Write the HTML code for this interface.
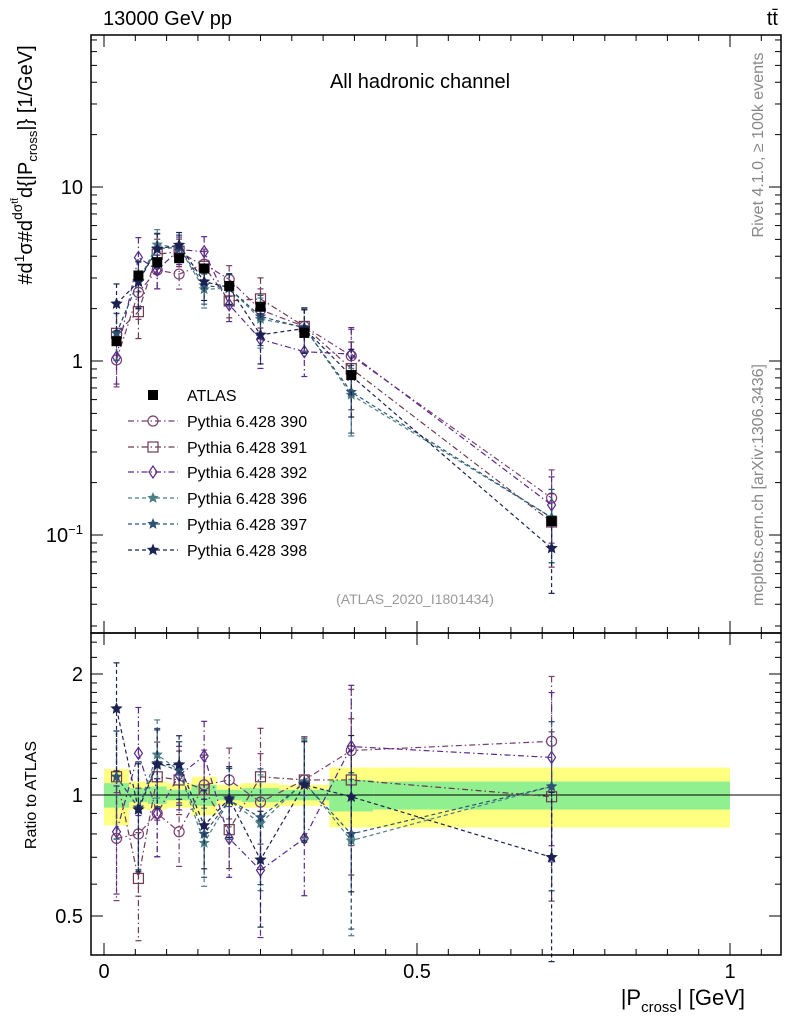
<!DOCTYPE html>
<html><head><meta charset="utf-8"><style>
body{margin:0;background:#fff;}
svg{display:block;font-family:"Liberation Sans",sans-serif;}
</style></head><body>
<svg id="c" width="786" height="1024" viewBox="0 0 786 1024"></svg>
<script>
const binEdges=[0,0.04,0.07,0.1,0.14,0.18,0.22,0.28,0.36,0.43,1.0];
const binCenters=[0.02,0.055,0.085,0.12,0.16,0.2,0.25,0.32,0.395,0.715];
const atlasValues=[1.30,3.1,3.7,3.9,3.4,2.7,2.05,1.45,0.83,0.12];
const bandTotal=[0.16,0.08,0.08,0.07,0.11,0.06,0.07,0.06,0.17,0.17];
const bandStat=[0.07,0.04,0.05,0.03,0.06,0.03,0.04,0.03,0.09,0.08];
const mcErr=[0.3,0.3,0.22,0.18,0.22,0.2,0.32,0.28,0.42,0.45];
const seriesNames=["Pythia 6.428 390","Pythia 6.428 391","Pythia 6.428 392","Pythia 6.428 396","Pythia 6.428 397","Pythia 6.428 398"];
const ratio390=[0.78,0.80,0.90,0.81,1.06,1.09,0.96,1.09,1.29,1.36];
const ratio391=[1.11,0.62,1.11,1.09,1.03,0.82,1.11,1.09,1.09,0.99];
const ratio392=[0.81,1.27,0.90,1.12,1.25,0.78,0.65,0.78,1.32,1.24];
const ratio396=[1.11,0.93,1.26,1.15,0.76,0.97,0.85,1.08,0.77,1.05];
const ratio397=[1.11,0.93,1.20,1.15,0.80,0.97,0.88,1.07,0.80,1.05];
const ratio398=[1.64,0.92,1.19,1.19,0.84,0.98,0.69,1.06,0.99,0.70];
const xTicks=[0,0.5,1];
const xTickLabels=["0","0.5","1"];

const S=document.getElementById('c');const NS="http://www.w3.org/2000/svg";
function el(t,a,p){const e=document.createElementNS(NS,t);for(const k in a)e.setAttribute(k,a[k]);(p||S).appendChild(e);return e;}
const L=91,R=781,T=35,MB=633,B=955;
const X=v=>104+v*626;
const Ym=v=>361-174*Math.log10(v);
const Yr=v=>795-121*Math.log2(v);
const cols=["#7a3f72","#6e3a50","#5a2a8c","#4a7f85","#2f5374","#1b2150"];
const dashes=["6,3,1.5,3","6,3,1.5,3","6,3,1.5,3","4,3","4,3","4,3"];
const markers=["circle","square","diamond","star","star","tri"];
const ratios=[ratio390,ratio391,ratio392,ratio396,ratio397,ratio398];

for(let i=0;i<binCenters.length;i++){
  let x0=X(binEdges[i]),x1=X(binEdges[i+1]);
  let r=el('rect',{x:x0,y:Yr(1+bandTotal[i]),width:x1-x0,height:Yr(1-bandTotal[i])-Yr(1+bandTotal[i]),fill:"#ffff80"});
  
  
  let g=el('rect',{x:x0,y:Yr(1+bandStat[i]),width:x1-x0,height:Yr(1-bandStat[i])-Yr(1+bandStat[i]),fill:"#90f090"});
  
  
}
el('line',{x1:L,x2:R,y1:Yr(1),y2:Yr(1),stroke:"#000","stroke-width":1});

function marker(type,x,y,c,parent,s){
  s=s||5;let m;
  if(type=="circle")m=el('circle',{cx:x,cy:y,r:s,fill:"none",stroke:c,"stroke-width":1.2},parent);
  else if(type=="square")m=el('rect',{x:x-s,y:y-s,width:2*s,height:2*s,fill:"none",stroke:c,"stroke-width":1.2},parent);
  else if(type=="diamond")m=el('polygon',{points:`${x},${y-s-1} ${x+s-1},${y} ${x},${y+s+1} ${x-s+1},${y}`,fill:"none",stroke:c,"stroke-width":1.2},parent);
  else if(type=="tri")m=el('polygon',{points:starPts(x,y,s+1.5),fill:c},parent);
  else if(type=="fsq")m=el('rect',{x:x-s,y:y-s,width:2*s,height:2*s,fill:c},parent);
  else m=el('polygon',{points:starPts(x,y,s+1),fill:c},parent);
  return m;
}
function starPts(x,y,r){let p=[];for(let k=0;k<10;k++){let a=-Math.PI/2+k*Math.PI/5,rr=k%2?r*0.45:r;p.push((x+rr*Math.cos(a)).toFixed(1)+","+(y+rr*Math.sin(a)).toFixed(1));}return p.join(" ");}

ratios.forEach((rs,si)=>{
  const c=cols[si];
  const mainPts=rs.map((r,i)=>[X(binCenters[i]),Ym(r*atlasValues[i])]);
  const ratPts=rs.map((r,i)=>[X(binCenters[i]),Yr(r)]);
  let pl=el('polyline',{points:mainPts.map(p=>p.join(",")).join(" "),fill:"none",stroke:c,"stroke-width":1.2,"stroke-dasharray":dashes[si]});
  
  
  let pr=el('polyline',{points:ratPts.map(p=>p.join(",")).join(" "),fill:"none",stroke:c,"stroke-width":1.2,"stroke-dasharray":dashes[si]});
  
  
  rs.forEach((r,i)=>{
    const v=r*atlasValues[i],e=mcErr[i];
    const x=X(binCenters[i]);
    [[Ym(v*(1+e)),Ym(v*(1-e))],[Yr(r*(1+e)),Yr(r*(1-e))]].forEach(([a,b])=>{
      el('line',{x1:x,x2:x,y1:a,y2:b,stroke:c,"stroke-width":1.2,"stroke-dasharray":dashes[si]});
      el('line',{x1:x-3,x2:x+3,y1:a,y2:a,stroke:c,"stroke-width":1.2});
      el('line',{x1:x-3,x2:x+3,y1:b,y2:b,stroke:c,"stroke-width":1.2});
    });
    let m1=marker(markers[si],x,Ym(v),c);
    
    
    let m2=marker(markers[si],x,Yr(r),c);
    
    
  });
});
atlasValues.forEach((v,i)=>{
  const x=X(binCenters[i]);
  let m=marker("fsq",x,Ym(v),"#000",null,5);
  
  
});

el('rect',{x:L,y:T,width:R-L,height:MB-T,fill:"none",stroke:"#000","stroke-width":1.5});
el('rect',{x:L,y:MB,width:R-L,height:B-MB,fill:"none",stroke:"#000","stroke-width":1.5});
for(let d=-2;d<=1;d++){for(let k=1;k<10;k++){const v=k*Math.pow(10,d);const y=Ym(v);if(y<T||y>MB)continue;const len=k==1?12:6;
 el('line',{x1:L,x2:L+len,y1:y,y2:y,stroke:"#000"});el('line',{x1:R-len,x2:R,y1:y,y2:y,stroke:"#000"});}}
[[10,"10"],[1,"1"]].forEach(([v,t])=>{let tx=el('text',{x:L-8,y:Ym(v)+7,"text-anchor":"end","font-size":20});tx.textContent=t;});
let t01=el('text',{x:L-8,y:Ym(0.1)+7,"text-anchor":"end","font-size":20});t01.innerHTML='10<tspan dy="-8" font-size="13">−1</tspan>';
[0.5,0.6,0.7,0.8,0.9,1,1.1,1.2,1.3,1.4,1.5,1.6,1.7,1.8,1.9,2,2.2,2.4].forEach(v=>{const y=Yr(v);const len=(v==0.5||v==1||v==2)?12:6;
 el('line',{x1:L,x2:L+len,y1:y,y2:y,stroke:"#000"});el('line',{x1:R-len,x2:R,y1:y,y2:y,stroke:"#000"});});
[[2,"2"],[1,"1"],[0.5,"0.5"]].forEach(([v,t])=>{
 let a=el('text',{x:L-8,y:Yr(v)+7,"text-anchor":"end","font-size":20});a.textContent=t;
 let b=el('text',{x:R+8,y:Yr(v)+7,"font-size":20});b.textContent=t;});
for(let k=0;k<=21;k++){const v=k*0.05;const x=X(v);if(x>R)break;const len=k%10==0?12:6;
 el('line',{x1:x,x2:x,y1:MB-len,y2:MB,stroke:"#000"});el('line',{x1:x,x2:x,y1:T,y2:T+len,stroke:"#000"});
 el('line',{x1:x,x2:x,y1:B-len,y2:B,stroke:"#000"});el('line',{x1:x,x2:x,y1:MB,y2:MB+len,stroke:"#000"});}
xTicks.forEach((v,i)=>{let t=el('text',{x:X(v),y:978,"text-anchor":"middle","font-size":20});t.textContent=xTickLabels[i];});

const legY=[395,421,447,472,498,524,550];
let lg=el('g',{});
marker("fsq",153,legY[0],"#000",lg,5);
let lt=el('text',{x:187,y:legY[0]+6,"font-size":16},lg);lt.textContent="ATLAS";
seriesNames.forEach((n,i)=>{const y=legY[i+1];
 el('line',{x1:128,x2:178,y1:y,y2:y,stroke:cols[i],"stroke-width":1.2,"stroke-dasharray":dashes[i]},lg);
 marker(markers[i],153,y,cols[i],lg);
 let t=el('text',{x:187,y:y+6,"font-size":16},lg);t.textContent=n;});

function txt(x,y,s,attrs,name){let t=el('text',Object.assign({x:x,y:y},attrs));t.innerHTML=s;return t;}
txt(103,25,"13000 GeV pp",{"font-size":20},"energy-label");
txt(778,25,"tt̄",{"font-size":20,"text-anchor":"end"},"process-label");
txt(420,88,"All hadronic channel",{"font-size":20,"text-anchor":"middle"},"channel-title");
txt(415,604,"(ATLAS_2020_I1801434)",{"font-size":14,"text-anchor":"middle",fill:"#999"},"analysis-id");
txt(0,0,"Rivet 4.1.0, ≥ 100k events",{"font-size":16,fill:"#888","text-anchor":"middle",transform:"translate(763,145) rotate(-90)"},"rivet-label");
txt(0,0,"mcplots.cern.ch [arXiv:1306.3436]",{"font-size":16,fill:"#888","text-anchor":"middle",transform:"translate(763,485) rotate(-90)"},"mcplots-label");
txt(0,0,"Ratio to ATLAS",{"font-size":16,"text-anchor":"middle",transform:"translate(36,795) rotate(-90)"},"ratio-y-title");
txt(0,0,"#d<tspan font-size=\"14\" dy=\"-8\">1</tspan><tspan dy=\"8\">σ</tspan>#d<tspan font-size=\"14\" dy=\"-10\">dσ</tspan><tspan font-size=\"10\" dy=\"-4\">tt̄</tspan><tspan dy=\"14\">d{|P</tspan><tspan font-size=\"13\" dy=\"5\">cross</tspan><tspan dy=\"-5\">|} [1/GeV]</tspan>",{"font-size":20,"text-anchor":"middle",transform:"translate(32,165) rotate(-90)"},"y-axis-title");
txt(0,0,"|P<tspan font-size=\"15\" dy=\"7\">cross</tspan><tspan dy=\"-7\">| [GeV]</tspan>",{"font-size":22,"text-anchor":"end",transform:"translate(745,1005)"},"x-axis-title");
</script>
</body></html>
